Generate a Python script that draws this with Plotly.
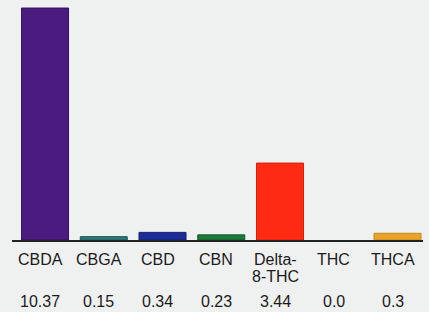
import plotly.graph_objects as go

categories = ["CBDA", "CBGA", "CBD", "CBN", "Delta-8-THC", "THC", "THCA"]
label_lines = [["CBDA"], ["CBGA"], ["CBD"], ["CBN"], ["Delta-", "8-THC"], ["THC"], ["THCA"]]
values = [10.37, 0.15, 0.34, 0.23, 3.44, 0.0, 0.3]
value_labels = ["10.37", "0.15", "0.34", "0.23", "3.44", "0.0", "0.3"]
colors = ["#4b1b80", "#2c7a78", "#1d2c96", "#1e7a3c", "#ff2a12", "#888888", "#e9a22b"]
edges = ["#361060", "#1d5856", "#131f70", "#135a2a", "#d81e08", "#666666", "#c88a1c"]
edge_widths = [1, 1, 1, 1, 1, 0, 1]

xpos = list(range(len(categories)))

fig = go.Figure()
fig.add_trace(go.Bar(
    x=xpos, y=values, width=0.8,
    marker=dict(color=colors, line=dict(color=edges, width=edge_widths)),
    hoverinfo="skip",
))

font = dict(family="Liberation Sans, Arial, sans-serif", size=16, color="#1b1b1b")
annotations = []
for i, lines in enumerate(label_lines):
    for j, line in enumerate(lines):
        annotations.append(dict(
            x=i, y=0, xref="x", yref="paper", text=line, showarrow=False,
            xanchor="center", yanchor="middle", xshift=-5, yshift=-19 - 17 * j,
            font=font,
        ))
    annotations.append(dict(
        x=i, y=0, xref="x", yref="paper", text=value_labels[i], showarrow=False,
        xanchor="center", yanchor="middle", xshift=-5, yshift=-61,
        font=font,
    ))

fig.update_layout(
    width=429, height=312,
    margin=dict(l=12, r=6, t=4, b=72),
    paper_bgcolor="#eff0f0", plot_bgcolor="#eff0f0",
    showlegend=False,
    annotations=annotations,
    xaxis=dict(range=[-0.562, 6.434], showgrid=False, zeroline=False,
               showticklabels=False, ticks="", showline=True,
               linecolor="#222222", linewidth=2, fixedrange=True),
    yaxis=dict(range=[0, 10.55], showgrid=False, zeroline=False,
               showticklabels=False, ticks="", showline=False, fixedrange=True),
)

fig.write_html("out.html", config={"displayModeBar": False},
               post_script="document.body.style.margin='0';document.body.style.background='#eff0f0';")
